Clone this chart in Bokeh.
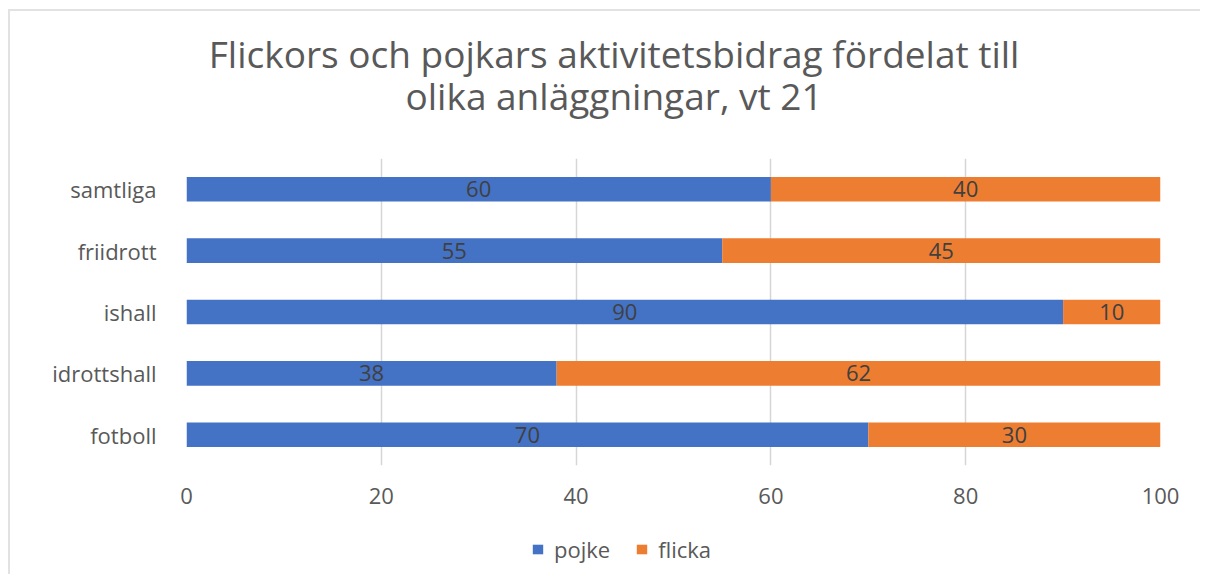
from bokeh.plotting import figure
from bokeh.layouts import column
from bokeh.models import ColumnDataSource, FactorRange, Range1d, Legend, LegendItem, FixedTicker
from bokeh.core.properties import value
from bokeh.embed import file_html
from bokeh.resources import INLINE

# ---- data ----
categories = ["samtliga", "friidrott", "ishall", "idrottshall", "fotboll"]
pojke = [60, 55, 90, 38, 70]
flicka = [40, 45, 10, 62, 30]
series_names = ["pojke", "flicka"]
x_ticks = [0, 20, 40, 60, 80, 100]
title_lines = ["Flickors och pojkars aktivitetsbidrag fördelat till", "olika anläggningar, vt 21"]

BLUE = "#4472C4"
ORANGE = "#ED7D31"
TXT = "#595959"
FONT = "Open Sans"

W = 1190
TITLE_H = 147
MAIN_H = 367
LEG_H = 49
BL, BR = 176, 40


def bare(fig):
    fig.title.visible = False
    fig.outline_line_color = None
    fig.grid.visible = False
    return fig


# ---- title figure ----
tf = bare(figure(width=W, height=TITLE_H, output_backend="svg", toolbar_location=None,
                 x_range=Range1d(0, 100), y_range=Range1d(TITLE_H, 0),
                 x_axis_type=None, y_axis_type=None,
                 min_border_left=BL, min_border_right=BR, min_border_top=0, min_border_bottom=0))
tf.text(x=[43.9, 43.9], y=[42, 84], text=title_lines, text_align="center", text_baseline="middle",
        text_font=value(FONT), text_font_size="37px", text_color=TXT)

# ---- main chart ----
src = ColumnDataSource(dict(
    cat=categories,
    p_left=[0] * len(pojke),
    p_right=pojke,
    f_left=pojke,
    f_right=[a + b for a, b in zip(pojke, flicka)],
    p_mid=[a / 2 for a in pojke],
    f_mid=[a + b / 2 for a, b in zip(pojke, flicka)],
    p_lab=[str(v) for v in pojke],
    f_lab=[str(v) for v in flicka],
))

p = figure(width=W, height=MAIN_H, output_backend="svg", toolbar_location=None,
           x_range=Range1d(0, 100), y_range=FactorRange(factors=list(reversed(categories))),
           min_border_left=BL, min_border_right=BR, min_border_top=0, min_border_bottom=MAIN_H - 307)
p.title.visible = False
p.outline_line_color = None

p.hbar(y="cat", left="p_left", right="p_right", height=0.4, color=BLUE, line_color=None, source=src)
p.hbar(y="cat", left="f_left", right="f_right", height=0.4, color=ORANGE, line_color=None, source=src)

for xcol, tcol in (("p_mid", "p_lab"), ("f_mid", "f_lab")):
    p.text(x=xcol, y="cat", text=tcol, source=src, text_align="center", text_baseline="middle",
           text_font=value(FONT), text_font_size="22px", text_color="#404040")

p.xaxis.ticker = FixedTicker(ticks=x_ticks)
p.xgrid.ticker = FixedTicker(ticks=x_ticks)
p.xgrid.grid_line_color = "#D6D6D6"
p.xgrid.grid_line_width = 1.5
p.ygrid.grid_line_color = None
for ax in (p.xaxis, p.yaxis):
    ax.axis_line_color = None
    ax.major_tick_line_color = None
    ax.minor_tick_line_color = None
    ax.major_tick_out = 0
    ax.major_tick_in = 0
    ax.major_label_text_font = FONT
    ax.major_label_text_color = TXT
    ax.major_label_text_font_size = "22px"
p.xaxis.major_label_standoff = 22
p.yaxis.major_label_standoff = 30

# ---- legend figure (swatch renderers are zero-width placeholders) ----
lf = bare(figure(width=W, height=LEG_H, output_backend="svg", toolbar_location=None,
                 x_range=Range1d(0, 100), y_range=Range1d(0, 1),
                 x_axis_type=None, y_axis_type=None,
                 min_border_left=BL, min_border_right=BR, min_border_top=0, min_border_bottom=0))
swatch = ColumnDataSource(dict(y=[0], left=[0], right=[0]))
lb = lf.hbar(y="y", left="left", right="right", height=0.4, color=BLUE, line_color=None, source=swatch)
lo = lf.hbar(y="y", left="left", right="right", height=0.4, color=ORANGE, line_color=None, source=swatch)
legend = Legend(items=[LegendItem(label=series_names[0], renderers=[lb]),
                       LegendItem(label=series_names[1], renderers=[lo])],
                orientation="horizontal", location=(345, 10),
                padding=0, margin=0, spacing=25, border_line_color=None,
                background_fill_alpha=0, glyph_width=13, glyph_height=12,
                label_standoff=10, label_height=20,
                label_text_font=FONT, label_text_font_size="22px", label_text_color=TXT)
lf.add_layout(legend, "center")

layout = column(tf, p, lf, spacing=0)
layout.margin = (9, 0, 0, 8)
layout.styles = {"border-left": "2px solid #E2E2E2", "border-top": "2px solid #E2E2E2"}

open("out.html", "w").write(file_html(layout, INLINE))
